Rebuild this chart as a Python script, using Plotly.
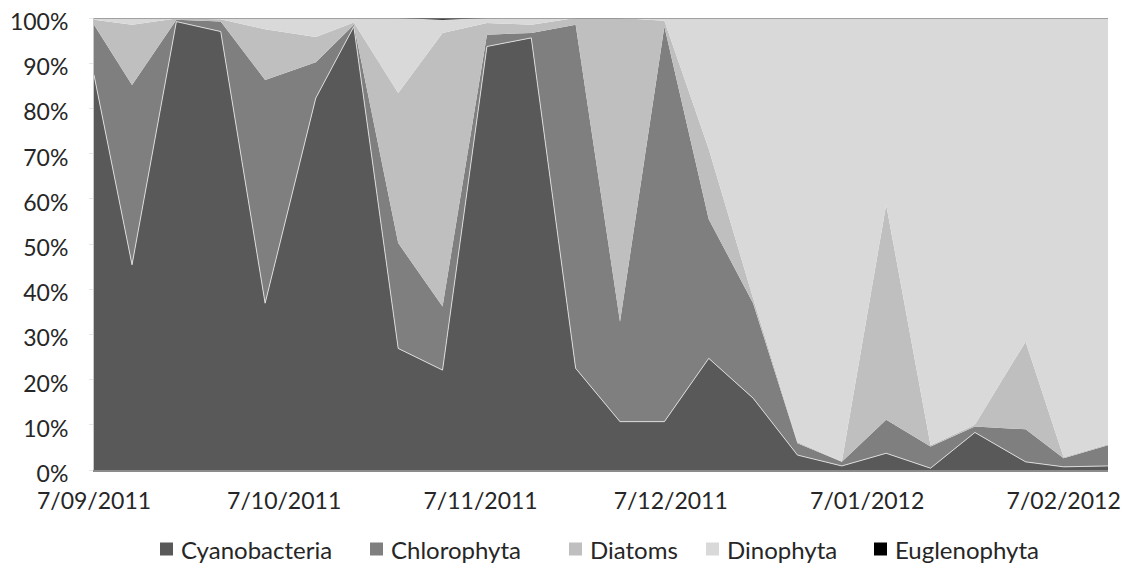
import plotly.graph_objects as go

# Weekly sampling dates (day/month/year on the axis)
sample_dates = [
    "2011-09-07", "2011-09-13", "2011-09-20", "2011-09-27", "2011-10-04",
    "2011-10-12", "2011-10-18", "2011-10-25", "2011-11-01", "2011-11-08",
    "2011-11-15", "2011-11-22", "2011-11-29", "2011-12-06", "2011-12-13",
    "2011-12-20", "2011-12-27", "2012-01-03", "2012-01-10", "2012-01-17",
    "2012-01-24", "2012-02-01", "2012-02-07", "2012-02-14",
]

# Relative abundance of each group (% of total)
cyanobacteria = [87.4, 45.4, 99.2, 97.0, 36.9, 82.3, 98.1, 26.9, 22.1, 93.7,
                 95.6, 22.5, 10.7, 10.7, 24.7, 15.9, 3.3, 0.9, 3.7, 0.4,
                 8.3, 1.8, 0.7, 0.9]
chlorophyta = [11.1, 39.8, 0.4, 2.2, 49.4, 7.9, 0.4, 23.3, 14.1, 2.6,
               1.1, 76.0, 22.1, 87.4, 30.8, 21.0, 2.6, 0.9, 7.4, 4.8,
               1.3, 7.2, 1.9, 4.6]
diatoms = [1.1, 13.3, 0.3, 0.5, 11.2, 5.6, 0.5, 33.2, 60.5, 2.6,
           1.8, 1.5, 67.2, 1.3, 15.5, 1.1, 0.3, 0.1, 47.6, 0.3,
           0.4, 19.4, 0.2, 0.2]
dinophyta = [0.4, 1.5, 0.1, 0.3, 2.5, 4.2, 1.0, 16.6, 2.9, 1.1,
             1.5, 0.0, 0.0, 0.6, 29.0, 62.0, 93.8, 98.1, 41.3, 94.5,
             90.0, 71.6, 97.2, 94.3]
euglenophyta = [0.0, 0.0, 0.0, 0.0, 0.0, 0.0, 0.0, 0.0, 0.4, 0.0,
                0.0, 0.0, 0.0, 0.0, 0.0, 0.0, 0.0, 0.0, 0.0, 0.0,
                0.0, 0.0, 0.0, 0.0]

series_names = ["Cyanobacteria", "Chlorophyta", "Diatoms", "Dinophyta", "Euglenophyta"]
series_values = [cyanobacteria, chlorophyta, diatoms, dinophyta, euglenophyta]
series_colors = ["#595959", "#7f7f7f", "#bfbfbf", "#d9d9d9", "#000000"]

tick_dates = ["2011-09-07", "2011-10-07", "2011-11-07", "2011-12-07",
              "2012-01-07", "2012-02-07"]
tick_labels = ["7/09/2011", "7/10/2011", "7/11/2011", "7/12/2011",
               "7/01/2012", "7/02/2012"]
pct_ticks = list(range(0, 101, 10))

FONT = "Lato, 'Open Sans', sans-serif"
TEXT = "#262626"
FS = 23

W, H = 1125, 578
ML, MR, MT, MB = 94, 17, 18, 108
PW, PH = W - ML - MR, H - MT - MB

fig = go.Figure()
for i, (name, vals, col) in enumerate(zip(series_names, series_values, series_colors)):
    fig.add_trace(go.Scatter(
        x=sample_dates, y=vals, name=name,
        mode="lines", stackgroup="one", groupnorm="percent" if i == 0 else None,
        fillcolor=col,
        line=dict(color="#e2e2e2" if i == 0 else col, width=0.9 if i == 0 else 0),
        showlegend=False,
    ))

# 100% boundary line along the top of the plot
fig.add_shape(type="line", xref="paper", yref="y", x0=0, x1=1, y0=100, y1=100,
              line=dict(color="#8c8c8c", width=1.5), layer="above")

# Legend: coloured squares with series names underneath the plot
legend_left_px = [160, 370, 569, 706, 874]
legend_y_px = 549
sq = 13
for name, col, lx in zip(series_names, series_colors, legend_left_px):
    x0 = (lx - ML) / PW
    x1 = (lx + sq - ML) / PW
    y0 = (MT + PH - (legend_y_px + sq / 2)) / PH
    y1 = (MT + PH - (legend_y_px - sq / 2)) / PH
    fig.add_shape(type="rect", xref="paper", yref="paper", x0=x0, x1=x1, y0=y0, y1=y1,
                  fillcolor=col, line=dict(width=0))
    fig.add_annotation(text=name, xref="paper", yref="paper",
                       x=(lx + sq + 6 - ML) / PW, y=(MT + PH - legend_y_px) / PH,
                       xanchor="left", yanchor="middle", showarrow=False,
                       font=dict(family=FONT, size=FS + 1, color=TEXT))

fig.update_layout(
    width=W, height=H,
    margin=dict(l=ML, r=MR, t=MT, b=MB, pad=0, autoexpand=False),
    paper_bgcolor="white", plot_bgcolor="white",
    font=dict(family=FONT, size=FS, color=TEXT),
    xaxis=dict(
        type="date", range=[sample_dates[0], sample_dates[-1]], automargin=False,
        tickmode="array", tickvals=tick_dates, ticktext=tick_labels,
        showgrid=False, zeroline=False, showline=True, linecolor="#8c8c8c", linewidth=1.5,
        ticks="", ticklabelstandoff=10, ticklabeloverflow="allow",
        tickfont=dict(family=FONT, size=FS, color=TEXT),
    ),
    yaxis=dict(
        range=[0, 100], tickmode="array", tickvals=pct_ticks, automargin=False,
        ticktext=[f"{v}%" for v in pct_ticks],
        showgrid=True, gridcolor="#d9d9d9", zeroline=False,
        showline=True, linecolor="#c8c8c8", linewidth=1,
        ticks="outside", ticklen=4, tickcolor="#e6e6e6",
        ticklabelstandoff=16, ticklabelshift=4, ticklabeloverflow="allow",
        tickfont=dict(family=FONT, size=FS, color=TEXT),
    ),
)

fig.write_html("out.html")
